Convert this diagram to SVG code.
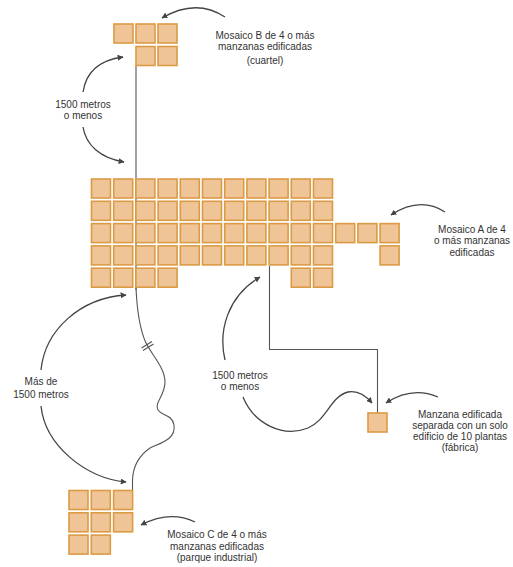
<svg xmlns="http://www.w3.org/2000/svg" width="513" height="567" viewBox="0 0 513 567">
<defs>
<style>
.b{fill:#efc597;stroke:#dc9a45;stroke-width:1.6}
.ln{fill:none;stroke:#555;stroke-width:1.1}
.ar{fill:none;stroke:#444;stroke-width:1.3;marker-end:url(#ah)}
text{font-family:"Liberation Sans",Arial,sans-serif;font-size:10px;fill:#333;text-anchor:middle}
</style>
<marker id="ah" viewBox="0 0 10 10" refX="9" refY="5" markerWidth="6" markerHeight="6" markerUnits="userSpaceOnUse" orient="auto">
<path d="M0,0 L10,5 L0,10 Z" fill="#444"/>
</marker>
<rect id="sq" class="b" width="19" height="19"/>
</defs>
<rect width="513" height="567" fill="#fff"/>
<g id="connectors">
<path class="ln" d="M136,66 V290"/>
<path class="ln" d="M136,288 C137,310 140,330 146,343 C152,355 165,368 165,382 C165,396 154,402 158,410 C162,416 172,414 174,425 C176,440 160,443 150,448 C140,455 133,465 132.5,480 V490"/>
<path class="ln" d="M141.5,348 L152,341.5 M143,350.5 L153.5,344"/>
<path class="ln" d="M269.5,266 V349.5 H377.5 V413"/>
<path class="ar" d="M225,17 Q196,-2 162,18"/>
<path class="ar" d="M83,92 C86,72 100,60 123,57"/>
<path class="ar" d="M83,127 C86,145 100,158 124,162"/>
<path class="ar" d="M445,212 Q420,196 391,215"/>
<path class="ar" d="M438,397 Q412,386 386,403"/>
<path class="ar" d="M195,522 Q170,510 141,525"/>
<path class="ar" d="M225,360 C218,330 228,296 260,277"/>
<path class="ar" d="M243,397 C254,424 283,438 308,428 C327,420 330,397 348,392 C358,390 366,396 372,403"/>
<path class="ar" d="M41,370 C45,330 80,298 126,295"/>
<path class="ar" d="M41,406 C45,445 85,478 126,482"/>
</g>
<g id="mosaicoB">
<use href="#sq" x="114" y="24"/><use href="#sq" x="136" y="24"/><use href="#sq" x="158" y="24"/>
<use href="#sq" x="136" y="46.5"/><use href="#sq" x="158" y="46.5"/>
</g>
<g id="mosaicoA">
<use href="#sq" x="91.5" y="179"/><use href="#sq" x="113.7" y="179"/><use href="#sq" x="135.9" y="179"/><use href="#sq" x="158.1" y="179"/><use href="#sq" x="180.3" y="179"/><use href="#sq" x="202.5" y="179"/><use href="#sq" x="224.7" y="179"/><use href="#sq" x="246.9" y="179"/><use href="#sq" x="269.1" y="179"/><use href="#sq" x="291.3" y="179"/><use href="#sq" x="313.5" y="179"/>
<use href="#sq" x="91.5" y="201.3"/><use href="#sq" x="113.7" y="201.3"/><use href="#sq" x="135.9" y="201.3"/><use href="#sq" x="158.1" y="201.3"/><use href="#sq" x="180.3" y="201.3"/><use href="#sq" x="202.5" y="201.3"/><use href="#sq" x="224.7" y="201.3"/><use href="#sq" x="246.9" y="201.3"/><use href="#sq" x="269.1" y="201.3"/><use href="#sq" x="291.3" y="201.3"/><use href="#sq" x="313.5" y="201.3"/>
<use href="#sq" x="91.5" y="223.6"/><use href="#sq" x="113.7" y="223.6"/><use href="#sq" x="135.9" y="223.6"/><use href="#sq" x="158.1" y="223.6"/><use href="#sq" x="180.3" y="223.6"/><use href="#sq" x="202.5" y="223.6"/><use href="#sq" x="224.7" y="223.6"/><use href="#sq" x="246.9" y="223.6"/><use href="#sq" x="269.1" y="223.6"/><use href="#sq" x="291.3" y="223.6"/><use href="#sq" x="313.5" y="223.6"/><use href="#sq" x="335.7" y="223.6"/><use href="#sq" x="357.9" y="223.6"/><use href="#sq" x="380.1" y="223.6"/>
<use href="#sq" x="91.5" y="245.9"/><use href="#sq" x="113.7" y="245.9"/><use href="#sq" x="135.9" y="245.9"/><use href="#sq" x="158.1" y="245.9"/><use href="#sq" x="180.3" y="245.9"/><use href="#sq" x="202.5" y="245.9"/><use href="#sq" x="224.7" y="245.9"/><use href="#sq" x="246.9" y="245.9"/><use href="#sq" x="269.1" y="245.9"/><use href="#sq" x="291.3" y="245.9"/><use href="#sq" x="313.5" y="245.9"/><use href="#sq" x="380.1" y="245.9"/>
<use href="#sq" x="91.5" y="268.2"/><use href="#sq" x="113.7" y="268.2"/><use href="#sq" x="135.9" y="268.2"/><use href="#sq" x="158.1" y="268.2"/><use href="#sq" x="291.3" y="268.2"/><use href="#sq" x="313.5" y="268.2"/>
</g>
<g id="mosaicoC">
<use href="#sq" x="69" y="490.5"/><use href="#sq" x="91.3" y="490.5"/><use href="#sq" x="113.6" y="490.5"/>
<use href="#sq" x="69" y="512.8"/><use href="#sq" x="91.3" y="512.8"/><use href="#sq" x="113.6" y="512.8"/>
<use href="#sq" x="69" y="535.1"/><use href="#sq" x="91.3" y="535.1"/>
</g>
<g id="fabrica">
<use href="#sq" x="368" y="413"/>
</g>
<g id="labelB"><text x="265" y="38.5">Mosaico B de 4 o más</text><text x="265" y="50">manzanas edificadas</text><text x="265" y="63.5">(cuartel)</text></g>
<g id="labelDist1"><text x="83" y="107.5">1500 metros</text><text x="83" y="119">o menos</text></g>
<g id="labelA"><text x="472" y="232.5">Mosaico A de 4</text><text x="472" y="244">o más manzanas</text><text x="472" y="255.5">edificadas</text></g>
<g id="labelDist2"><text x="240" y="379">1500 metros</text><text x="240" y="390">o menos</text></g>
<g id="labelMas"><text x="41" y="385">Más de</text><text x="41" y="397.5">1500 metros</text></g>
<g id="labelFabrica"><text x="460" y="417.5">Manzana edificada</text><text x="460" y="428.5">separada con un solo</text><text x="460" y="439.5">edificio de 10 plantas</text><text x="460" y="451">(fábrica)</text></g>
<g id="labelC"><text x="217" y="537.5">Mosaico C de 4 o más</text><text x="217" y="549.5">manzanas edificadas</text><text x="217" y="561">(parque industrial)</text></g>
</svg>
